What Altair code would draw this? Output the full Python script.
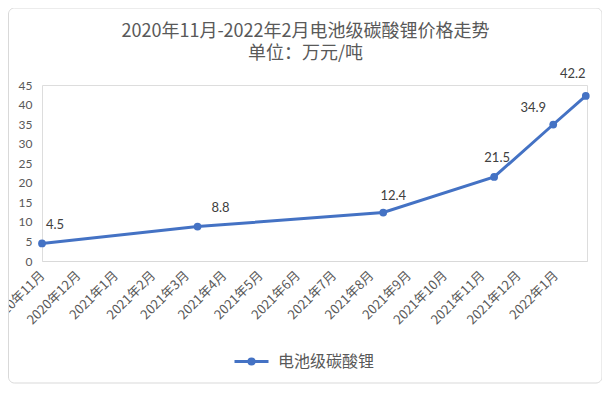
import altair as alt
import pandas as pd

# ---------------- data ----------------
series_name = "电池级碳酸锂"
dates = ["2020-11-01", "2021-03-10", "2021-08-11", "2021-11-11", "2021-12-30", "2022-01-26"]
prices = [4.5, 8.8, 12.4, 21.5, 34.9, 42.2]
tick_months = ["2020-11-01", "2020-12-01", "2021-01-01", "2021-02-01", "2021-03-01",
               "2021-04-01", "2021-05-01", "2021-06-01", "2021-07-01", "2021-08-01",
               "2021-09-01", "2021-10-01", "2021-11-01", "2021-12-01", "2022-01-01"]
x_range = ["2020-11-01", "2022-01-27"]
y_ticks = [0, 5, 10, 15, 20, 25, 30, 35, 40, 45]
title_text = "2020年11月-2022年2月电池级碳酸锂价格走势"
subtitle_text = "单位：万元/吨"

# label placement (style): value -> (dx, dy)
label_place = [(4.5, 13, -18), (8.8, 23, -19), (12.4, 10, -17),
               (21.5, 3, -19), (34.9, -20, -17), (42.2, -13, -22)]


def ms(s):
    return int(pd.Timestamp(s, tz="UTC").value // 10**6)


df = pd.DataFrame({"date": dates, "price": prices, "series": series_name})

FONT = "Noto Sans CJK SC"
NUM_FONT = "Lato"
GRAY = "#595959"
BLUE = "#4472C4"
W, H = 545, 176

legend_symbol = ("M-1,0L-0.15,0M0.15,0L1,0"
                 "M-0.15,0A0.15,0.15 0 1,0 0.15,0A0.15,0.15 0 1,0 -0.15,0Z")

x_enc = alt.X(
    "date:T",
    scale=alt.Scale(type="utc", domain=[ms(v) for v in x_range], nice=False),
    axis=alt.Axis(
        values=[ms(v) for v in tick_months],
        labelExpr="utcFormat(datum.value, '%Y年%-m月')",
        labelAngle=-45,
        labelAlign="right",
        labelBaseline="middle",
        title=None,
        domainColor="#d9d9d9",
        domainWidth=1,
        ticks=False,
        grid=False,
        labelColor=GRAY,
        labelFont=FONT,
        labelFontSize=13,
        labelPadding=12,
        labelOverlap=False,
        labelFlush=False,
        labelBound=False,
    ),
)
y_enc = alt.Y(
    "price:Q",
    scale=alt.Scale(domain=[0, 45], nice=False, zero=True),
    axis=alt.Axis(
        values=y_ticks,
        title=None,
        domain=False,
        ticks=False,
        grid=False,
        labelColor=GRAY,
        labelFont=NUM_FONT,
        labelFontSize=12,
        labelPadding=10,
    ),
)
color_enc = alt.Color(
    "series:N",
    scale=alt.Scale(range=[BLUE]),
    legend=alt.Legend(
        title=None,
        orient="none",
        legendX=191,
        legendY=258,
        symbolType=legend_symbol,
        symbolSize=1156,
        symbolStrokeWidth=3,
        symbolFillColor=BLUE,
        symbolStrokeColor=BLUE,
        labelFont=FONT,
        labelFontSize=16,
        labelColor=GRAY,
        labelOffset=8,
    ),
)

base = alt.Chart(df).encode(x=x_enc, y=y_enc)

line = base.mark_line(strokeWidth=3).encode(color=color_enc)
pts = base.mark_point(filled=True, size=60, opacity=1, color=BLUE)

labels = [
    base.transform_filter(f"datum.price == {v}").mark_text(
        dx=ddx, dy=ddy, font=NUM_FONT, fontSize=13, color="#404040"
    ).encode(text=alt.Text("price:Q", format=".1f"))
    for v, ddx, ddy in label_place
]

frame = alt.Chart(pd.DataFrame({"k": [0]})).mark_rect(
    fillOpacity=0, stroke="#d9d9d9", strokeWidth=1, cornerRadius=6
).encode(x=alt.value(-33.5), x2=alt.value(560), y=alt.value(-77), y2=alt.value(298))

chart = alt.layer(frame, line, pts, *labels).properties(
    width=W,
    height=H,
    autosize=alt.AutoSizeParams(type="none"),
    padding={"left": 34, "top": 77, "right": 15, "bottom": 124},
    title=alt.TitleParams(
        text=title_text,
        subtitle=subtitle_text,
        font=FONT,
        subtitleFont=FONT,
        fontSize=18,
        subtitleFontSize=18,
        fontWeight="normal",
        color=GRAY,
        subtitleColor=GRAY,
        anchor="middle",
        dx=-9,
        offset=-55,
        subtitlePadding=4,
    ),
).configure_view(stroke=None).configure(background="white")

chart.save("out.html", embed_options={"renderer": "svg", "actions": False})
